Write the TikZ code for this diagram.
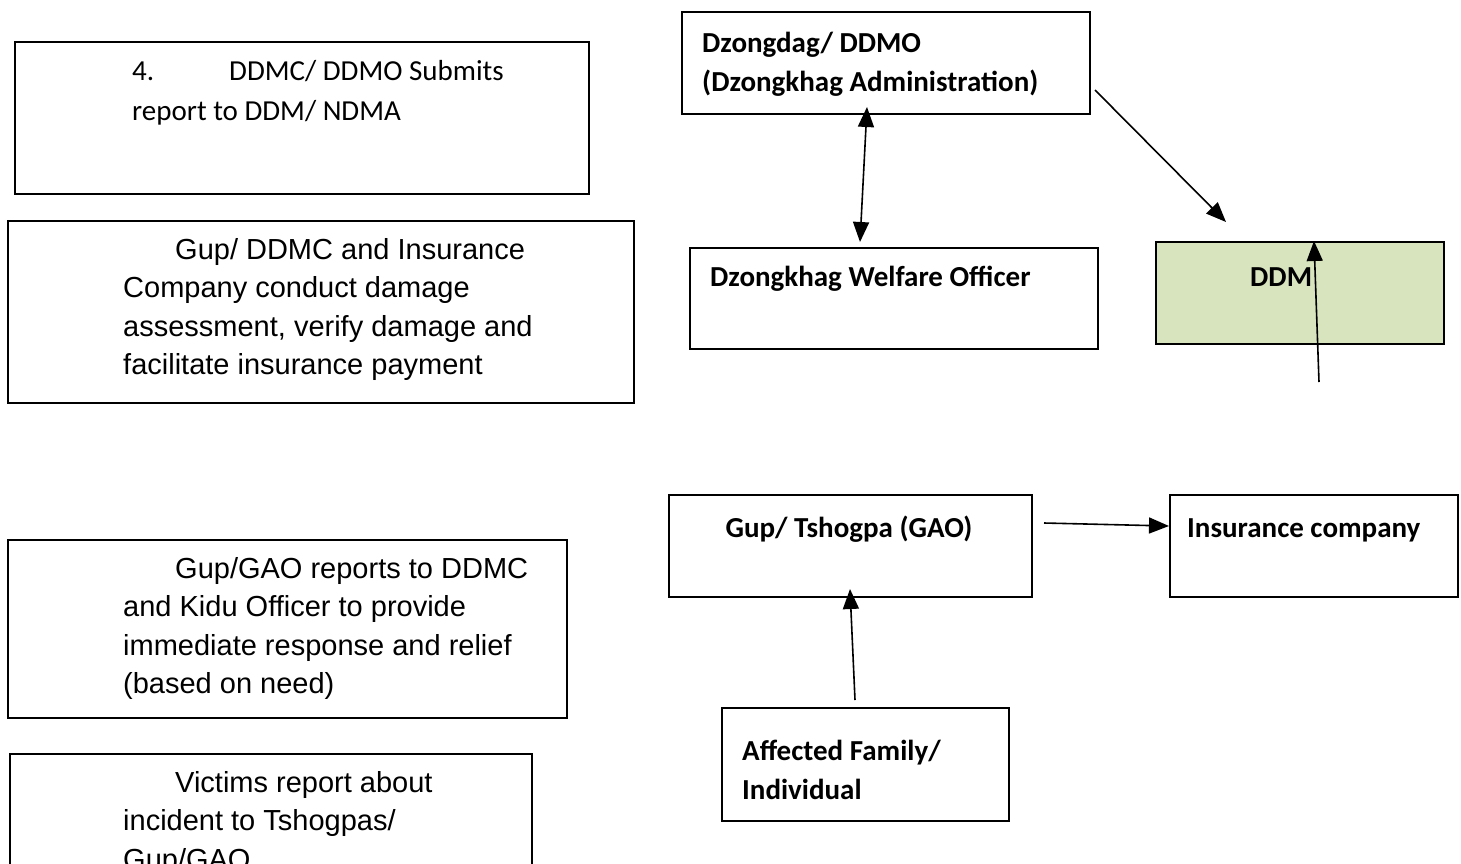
\documentclass[tikz,border=0pt]{standalone}
\usepackage{fontspec}
\setmainfont{Liberation Sans}
\newfontfamily\calfont{Carlito}
\usetikzlibrary{arrows.meta}
\definecolor{ddmgreen}{HTML}{D7E4BD}
\begin{document}
\begin{tikzpicture}[x=1pt,y=-1pt,
  box/.style={draw, line width=1.5pt, inner sep=0pt, anchor=north west},
  arr/.style={line width=1.6pt, -{Triangle[length=20pt,width=16pt]}},
  darr/.style={line width=1.6pt, {Triangle[length=20pt,width=16pt]}-{Triangle[length=20pt,width=16pt]}},
  atxt/.style={anchor=base west, inner sep=0pt, align=left, font=\fontsize{29}{38.5}\selectfont},
  ctxt/.style={anchor=base west, inner sep=0pt, align=left, font=\calfont\fontsize{29}{40}\selectfont},
  btxt/.style={anchor=base west, inner sep=0pt, align=left, font=\calfont\bfseries\fontsize{29}{39}\selectfont}]
\useasboundingbox (0,0) rectangle (1461,863);

% left column (anchors give the baseline of the last line)
\node[box, minimum width=574pt, minimum height=152pt] (b1) at (14,41) {};
\node[ctxt] (t1) at (132,120) {4.\hspace*{75pt}DDMC/ DDMO Submits\\report to DDM/ NDMA};

\node[box, minimum width=626pt, minimum height=182pt] (b2) at (7,220) {};
\node[atxt] (t2) at (123,374.5) {\hspace*{52pt}Gup/ DDMC and Insurance\\Company conduct damage\\assessment, verify damage and\\facilitate insurance payment};

\node[box, minimum width=559pt, minimum height=178pt] (b3) at (7,539) {};
\node[atxt] (t3) at (123,693.5) {\hspace*{52pt}Gup/GAO reports to DDMC\\and Kidu Officer to provide\\immediate response and relief\\(based on need)};

\node[box, minimum width=522pt, minimum height=140pt] (b4) at (9,753) {};
\node[atxt] (t4) at (123,869) {\hspace*{52pt}Victims report about\\incident to Tshogpas/\\Gup/GAO};

% right side
\node[box, minimum width=408pt, minimum height=102pt] (dz) at (681,11) {};
\node[btxt] (tdz) at (702,91) {Dzongdag/ DDMO\\(Dzongkhag Administration)};

\node[box, minimum width=408pt, minimum height=101pt] (wf) at (689,247) {};
\node[btxt] (twf) at (710,286) {Dzongkhag Welfare Officer};

\node[box, fill=ddmgreen, minimum width=288pt, minimum height=102pt] (ddm) at (1155,241) {};
\node[btxt] (tddm) at (1250,286) {DDM};

\node[box, minimum width=363pt, minimum height=102pt] (gup) at (668,494) {};
\node[btxt, anchor=base] (tgup) at (849,537) {Gup/ Tshogpa (GAO)};

\node[box, minimum width=288pt, minimum height=102pt] (ins) at (1169,494) {};
\node[btxt] (tins) at (1187,537) {Insurance company};

\node[box, minimum width=287pt, minimum height=113pt] (aff) at (721,707) {};
\node[btxt] (taff) at (742,799) {Affected Family/\\Individual};

% connector end points
\coordinate (a1s) at (1095,90);
\coordinate (a1e) at (1226,222);
\coordinate (a2s) at (1319,382);
\coordinate (a2e) at (1314,241);
\coordinate (a3s) at (867,107);
\coordinate (a3e) at (860,242);
\coordinate (a4s) at (1044,523);
\coordinate (a4e) at (1169,526);
\coordinate (a5s) at (855,700);
\coordinate (a5e) at (850,589);

\draw[arr] (a1s) -- (a1e);
\draw[arr] (a2s) -- (a2e);
\draw[darr] (a3s) -- (a3e);
\draw[arr] (a4s) -- (a4e);
\draw[arr] (a5s) -- (a5e);
\end{tikzpicture}
\end{document}
